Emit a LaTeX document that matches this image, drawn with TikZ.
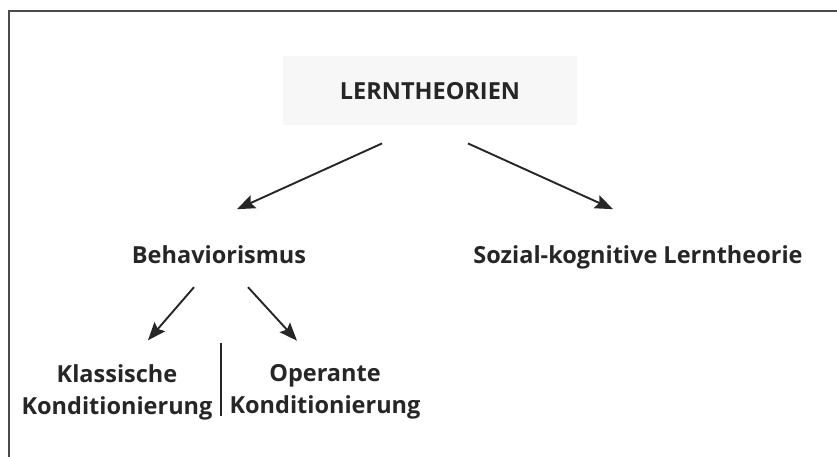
\documentclass[tikz,border=0pt]{standalone}
\usepackage{fontspec}
\setmainfont{Open Sans}
\usetikzlibrary{arrows.meta,positioning,calc}
\tikzset{thema/.style={font=\bfseries\fontsize{23.5}{32}\selectfont,text=black!85,inner sep=0pt,align=center},
  kasten/.style={thema,fill=black!3,minimum width=294pt,minimum height=69pt}}

\begin{document}
\begin{tikzpicture}[x=1pt,y=-1pt,>={Stealth[length=18pt,width=14pt,inset=3pt]},line width=1.9pt,black!85]
    \useasboundingbox (0,0) rectangle (837,457);
    \draw[line width=1.6pt,black!70] (9,457) -- (9,11) -- (837,11);

    \node[kasten] (lt) at (430,91) {LERNTHEORIEN};
    \node[thema,anchor=base] (beh) at (219,263) {Behaviorismus};
    \node[thema,anchor=base] (soz) at (638,263) {Sozial-kognitive Lerntheorie};
    \node[thema] (kk) at (117,392) {Klassische\\Konditionierung};
    \node[thema] (ok) at (325,392) {Operante\\Konditionierung};
    \coordinate (trenn) at ($(kk.east)!.5!(ok.west)$);

    \draw [->] ([xshift=-48pt,yshift=-17pt]lt.south) to ([xshift=18pt,yshift=35pt]beh.north);
    \draw [->] ([xshift=38pt,yshift=-17pt]lt.south) to ([xshift=-25pt,yshift=35pt]soz.north);
    \draw [->] ([xshift=-25pt,yshift=-23pt]beh.south) to ([xshift=31pt,yshift=23pt]kk.north);
    \draw [->] ([xshift=29pt,yshift=-23pt]beh.south) to ([xshift=-28pt,yshift=23pt]ok.north);
    \draw [line width=1.2pt] ([yshift=49pt]trenn) to ([yshift=-24pt]trenn);
\end{tikzpicture}
\end{document}
